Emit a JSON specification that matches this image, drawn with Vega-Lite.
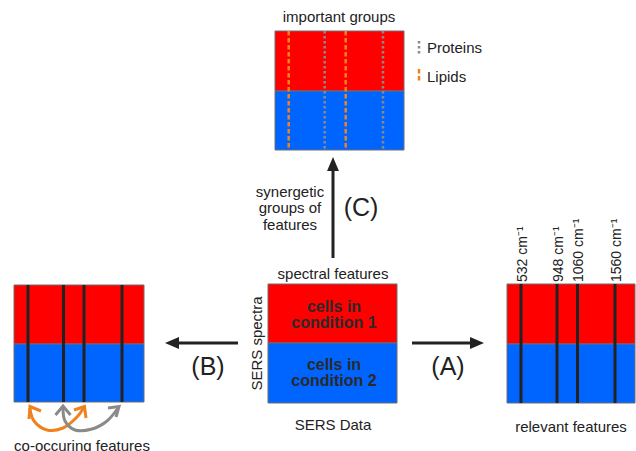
{
  "$schema": "https://vega.github.io/schema/vega-lite/v6.json",
  "width": 636,
  "height": 451,
  "autosize": {"type": "none"},
  "padding": 0,
  "background": "#ffffff",
  "config": {"view": {"stroke": null}, "font": "Liberation Sans"},
  "datasets": {
    "blocks": [
      {"panel": "important groups", "condition": "condition 1", "x": 275, "x2": 404, "y": 31, "y2": 91},
      {"panel": "important groups", "condition": "condition 2", "x": 275, "x2": 404, "y": 91, "y2": 150},
      {"panel": "SERS Data", "condition": "condition 1", "x": 268, "x2": 397, "y": 284, "y2": 343},
      {"panel": "SERS Data", "condition": "condition 2", "x": 268, "x2": 397, "y": 343, "y2": 403},
      {"panel": "co-occuring features", "condition": "condition 1", "x": 14, "x2": 144, "y": 285, "y2": 344},
      {"panel": "co-occuring features", "condition": "condition 2", "x": 14, "x2": 144, "y": 344, "y2": 402},
      {"panel": "relevant features", "condition": "condition 1", "x": 507, "x2": 635, "y": 284, "y2": 344},
      {"panel": "relevant features", "condition": "condition 2", "x": 507, "x2": 635, "y": 344, "y2": 403}
    ],
    "features": [
      {"panel": "co-occuring features", "x": 28, "y": 285, "y2": 402},
      {"panel": "co-occuring features", "x": 63.5, "y": 285, "y2": 402},
      {"panel": "co-occuring features", "x": 84, "y": 285, "y2": 402},
      {"panel": "co-occuring features", "x": 122, "y": 285, "y2": 402},
      {"panel": "relevant features", "x": 521, "y": 284, "y2": 403},
      {"panel": "relevant features", "x": 557, "y": 284, "y2": 403},
      {"panel": "relevant features", "x": 577.5, "y": 284, "y2": 403},
      {"panel": "relevant features", "x": 615, "y": 284, "y2": 403}
    ],
    "groups": [
      {"group": "Lipids", "x": 288.7, "y": 31, "y2": 150},
      {"group": "Proteins", "x": 324.7, "y": 31, "y2": 150},
      {"group": "Lipids", "x": 345.7, "y": 31, "y2": 150},
      {"group": "Proteins", "x": 383, "y": 31, "y2": 150},
      {"group": "Proteins", "x": 419, "y": 41, "y2": 55},
      {"group": "Lipids", "x": 419, "y": 69, "y2": 83}
    ],
    "shafts": [
      {"step": "C", "x": 333, "y": 258, "x2": 333, "y2": 169},
      {"step": "A", "x": 412, "y": 343, "x2": 473, "y2": 343},
      {"step": "B", "x": 238, "y": 343, "x2": 177, "y2": 343}
    ],
    "heads": [
      {"step": "C", "x": 333, "y": 164, "heading": 0},
      {"step": "A", "x": 477, "y": 343, "heading": 90},
      {"step": "B", "x": 172, "y": 343, "heading": 270}
    ],
    "curves": [
      {"id": "L", "group": "Lipids", "seq": 1, "x": 30, "y": 409},
      {"id": "L", "group": "Lipids", "seq": 2, "x": 34, "y": 421},
      {"id": "L", "group": "Lipids", "seq": 3, "x": 47, "y": 430},
      {"id": "L", "group": "Lipids", "seq": 4, "x": 63, "y": 428},
      {"id": "L", "group": "Lipids", "seq": 5, "x": 77, "y": 417},
      {"id": "L", "group": "Lipids", "seq": 6, "x": 83, "y": 409},
      {"id": "P", "group": "Proteins", "seq": 1, "x": 63, "y": 408},
      {"id": "P", "group": "Proteins", "seq": 2, "x": 65, "y": 421},
      {"id": "P", "group": "Proteins", "seq": 3, "x": 75, "y": 430},
      {"id": "P", "group": "Proteins", "seq": 4, "x": 92, "y": 429},
      {"id": "P", "group": "Proteins", "seq": 5, "x": 107, "y": 421},
      {"id": "P", "group": "Proteins", "seq": 6, "x": 118, "y": 408}
    ],
    "chevrons": [
      {"id": "L1", "group": "Lipids", "seq": 1, "x": 41, "y": 411},
      {"id": "L1", "group": "Lipids", "seq": 2, "x": 30, "y": 406.5},
      {"id": "L1", "group": "Lipids", "seq": 3, "x": 29, "y": 419},
      {"id": "L2", "group": "Lipids", "seq": 1, "x": 74, "y": 410},
      {"id": "L2", "group": "Lipids", "seq": 2, "x": 84.5, "y": 406.5},
      {"id": "L2", "group": "Lipids", "seq": 3, "x": 86, "y": 418},
      {"id": "P1", "group": "Proteins", "seq": 1, "x": 55.5, "y": 415},
      {"id": "P1", "group": "Proteins", "seq": 2, "x": 63, "y": 406},
      {"id": "P1", "group": "Proteins", "seq": 3, "x": 70.5, "y": 415},
      {"id": "P2", "group": "Proteins", "seq": 1, "x": 108, "y": 408},
      {"id": "P2", "group": "Proteins", "seq": 2, "x": 119, "y": 406.5},
      {"id": "P2", "group": "Proteins", "seq": 3, "x": 116, "y": 417}
    ],
    "texts": [
      {"role": "caption", "label": "important groups", "x": 339, "y": 17},
      {"role": "caption", "label": "spectral features", "x": 333, "y": 274},
      {"role": "caption", "label": "SERS Data", "x": 333, "y": 425},
      {"role": "caption", "label": "relevant features", "x": 571, "y": 427},
      {"role": "caption", "label": "synergetic", "x": 290, "y": 192},
      {"role": "caption", "label": "groups of", "x": 290, "y": 208},
      {"role": "caption", "label": "features", "x": 290, "y": 225},
      {"role": "caption", "label": "co-occuring features", "x": 82, "y": 446},
      {"role": "legend", "label": "Proteins", "x": 427, "y": 48},
      {"role": "legend", "label": "Lipids", "x": 427, "y": 77},
      {"role": "condition", "label": "cells in", "x": 334, "y": 307},
      {"role": "condition", "label": "condition 1", "x": 334, "y": 323},
      {"role": "condition", "label": "cells in", "x": 334, "y": 365},
      {"role": "condition", "label": "condition 2", "x": 334, "y": 381},
      {"role": "step", "label": "(C)", "x": 361, "y": 208},
      {"role": "step", "label": "(A)", "x": 448, "y": 367},
      {"role": "step", "label": "(B)", "x": 208, "y": 367},
      {"role": "axis", "label": "SERS spectra", "x": 257, "y": 343.5},
      {"role": "wavenumber", "label": "532 cm⁻¹", "x": 522.5, "y": 282},
      {"role": "wavenumber", "label": "948 cm⁻¹", "x": 558.5, "y": 282},
      {"role": "wavenumber", "label": "1060 cm⁻¹", "x": 579, "y": 282},
      {"role": "wavenumber", "label": "1560 cm⁻¹", "x": 616.5, "y": 282}
    ]
  },
  "encoding": {
    "x": {"field": "x", "type": "quantitative", "scale": {"domain": [0, 636], "nice": false, "zero": false}, "axis": null},
    "y": {"field": "y", "type": "quantitative", "scale": {"domain": [0, 451], "nice": false, "zero": false, "reverse": true}, "axis": null}
  },
  "layer": [
    {
      "data": {"name": "blocks"},
      "mark": {"type": "rect", "stroke": "#6e6e6e", "strokeWidth": 1},
      "encoding": {
        "x2": {"field": "x2"},
        "y2": {"field": "y2"},
        "fill": {"field": "condition", "type": "nominal", "scale": {"domain": ["condition 1", "condition 2"], "range": ["#ff0000", "#0064ff"]}, "legend": null}
      }
    },
    {
      "data": {"name": "features"},
      "mark": {"type": "rule", "color": "#222222", "strokeWidth": 3},
      "encoding": {"y2": {"field": "y2"}}
    },
    {
      "data": {"name": "groups"},
      "mark": {"type": "rule", "strokeWidth": 2.5},
      "encoding": {
        "y2": {"field": "y2"},
        "stroke": {"field": "group", "type": "nominal", "scale": {"domain": ["Proteins", "Lipids"], "range": ["#8a8a8a", "#f0821e"]}, "legend": null},
        "strokeDash": {"field": "group", "type": "nominal", "scale": {"domain": ["Proteins", "Lipids"], "range": [[2.5, 2.5], [4.5, 2.5]]}, "legend": null}
      }
    },
    {
      "data": {"name": "shafts"},
      "mark": {"type": "rule", "color": "#222222", "strokeWidth": 3},
      "encoding": {"x2": {"field": "x2"}, "y2": {"field": "y2"}}
    },
    {
      "data": {"name": "heads"},
      "mark": {"type": "point", "shape": "M0,-1L-0.85,1L0.85,1Z", "filled": true, "color": "#222222", "size": 196, "opacity": 1},
      "encoding": {
        "angle": {"field": "heading", "type": "quantitative", "scale": {"domain": [0, 360], "range": [0, 360]}}
      }
    },
    {
      "data": {"name": "curves"},
      "mark": {"type": "line", "interpolate": "catmull-rom", "strokeWidth": 3, "strokeCap": "round"},
      "encoding": {
        "detail": {"field": "id", "type": "nominal"},
        "order": {"field": "seq", "type": "quantitative"},
        "stroke": {"field": "group", "type": "nominal", "scale": {"domain": ["Proteins", "Lipids"], "range": ["#8a8a8a", "#f0821e"]}, "legend": null}
      }
    },
    {
      "data": {"name": "chevrons"},
      "mark": {"type": "line", "strokeWidth": 3, "strokeJoin": "miter"},
      "encoding": {
        "detail": {"field": "id", "type": "nominal"},
        "order": {"field": "seq", "type": "quantitative"},
        "stroke": {"field": "group", "type": "nominal", "scale": {"domain": ["Proteins", "Lipids"], "range": ["#8a8a8a", "#f0821e"]}, "legend": null}
      }
    },
    {
      "data": {"name": "texts"},
      "transform": [{"filter": "datum.role == 'caption'"}],
      "mark": {"type": "text", "fontSize": 15, "color": "#222222", "align": "center", "baseline": "middle"},
      "encoding": {"text": {"field": "label"}}
    },
    {
      "data": {"name": "texts"},
      "transform": [{"filter": "datum.role == 'legend'"}],
      "mark": {"type": "text", "fontSize": 15, "color": "#222222", "align": "left", "baseline": "middle"},
      "encoding": {"text": {"field": "label"}}
    },
    {
      "data": {"name": "texts"},
      "transform": [{"filter": "datum.role == 'condition'"}],
      "mark": {"type": "text", "fontSize": 16, "fontWeight": "bold", "color": "#2a2a2a", "align": "center", "baseline": "middle"},
      "encoding": {"text": {"field": "label"}}
    },
    {
      "data": {"name": "texts"},
      "transform": [{"filter": "datum.role == 'step'"}],
      "mark": {"type": "text", "fontSize": 25, "color": "#222222", "align": "center", "baseline": "middle"},
      "encoding": {"text": {"field": "label"}}
    },
    {
      "data": {"name": "texts"},
      "transform": [{"filter": "datum.role == 'axis'"}],
      "mark": {"type": "text", "fontSize": 15, "color": "#222222", "align": "center", "baseline": "middle", "angle": 270},
      "encoding": {"text": {"field": "label"}}
    },
    {
      "data": {"name": "texts"},
      "transform": [{"filter": "datum.role == 'wavenumber'"}],
      "mark": {"type": "text", "fontSize": 14, "color": "#222222", "align": "left", "baseline": "middle", "angle": 270},
      "encoding": {"text": {"field": "label"}}
    }
  ]
}
